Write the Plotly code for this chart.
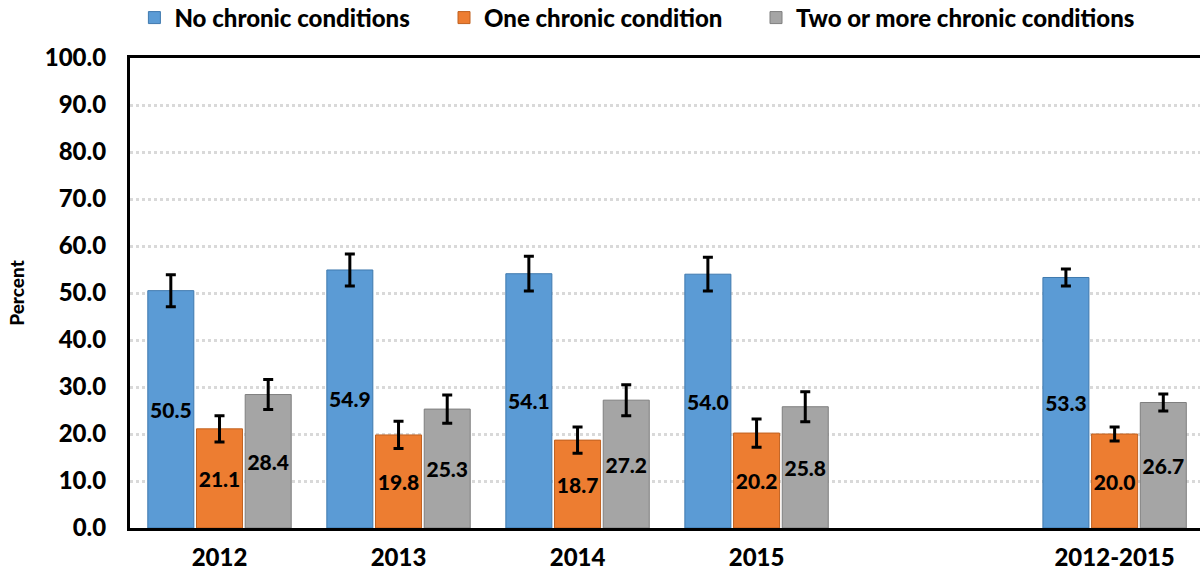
import plotly.graph_objects as go

# categories (blank slot keeps the gap before the pooled years)
periods = ["2012", "2013", "2014", "2015", " ", "2012-2015"]

no_chronic = [50.5, 54.9, 54.1, 54.0, None, 53.3]
one_chronic = [21.1, 19.8, 18.7, 20.2, None, 20.0]
two_plus = [28.4, 25.3, 27.2, 25.8, None, 26.7]

no_chronic_err = [3.4, 3.4, 3.7, 3.6, None, 1.8]
one_chronic_err = [2.8, 2.9, 2.8, 3.0, None, 1.5]
two_plus_err = [3.2, 3.0, 3.3, 3.2, None, 1.8]

series = [
    ("No chronic conditions", no_chronic, no_chronic_err, "#5B9BD5", "#3F79AE", "legend", 0.112),
    ("One chronic condition", one_chronic, one_chronic_err, "#ED7D31", "#C0611F", "legend2", 0.370),
    ("Two or more chronic conditions", two_plus, two_plus_err, "#A5A5A5", "#7F7F7F", "legend3", 0.630),
]

FONT = "Lato"

fig = go.Figure()
legends = {}
for name, vals, errs, color, edge, leg, lx in series:
    fig.add_trace(go.Bar(
        x=periods, y=vals, name=name, legend=leg, showlegend=True,
        marker=dict(color=color, line=dict(color=edge, width=1)),
        error_y=dict(type="data", array=errs, visible=True,
                     color="black", thickness=3, width=5),
        text=[f"{v:.1f}" if v is not None else "" for v in vals],
        textposition="inside", insidetextanchor="middle", textangle=0,
        constraintext="none",
        textfont=dict(family=FONT, size=21, color="black", weight=900),
        cliponaxis=False,
    ))
    # one legend per series so each entry sits where the original has it
    legends[leg] = dict(orientation="h", xref="container", yref="container",
                        x=lx, xanchor="left", y=0.9685, yanchor="middle",
                        font=dict(family=FONT, size=24, weight=900),
                        itemwidth=30, bgcolor="rgba(0,0,0,0)", visible=True)

fig.update_layout(
    width=1200, height=571, showlegend=True,
    margin=dict(l=130, r=0, t=58, b=43, autoexpand=False),
    paper_bgcolor="white", plot_bgcolor="white",
    barmode="group", bargap=0.184, bargroupgap=0.055,
    font=dict(family=FONT, color="black"),
    xaxis=dict(
        type="category", categoryorder="array", categoryarray=periods,
        range=[-0.5, 5.477],
        showline=True, linecolor="black", linewidth=3, mirror=True,
        showgrid=False, ticks="",
        tickfont=dict(family=FONT, size=24, weight=900),
        ticklabelstandoff=6,
    ),
    yaxis=dict(
        range=[0, 100], dtick=10, tickformat=".1f",
        showline=True, linecolor="black", linewidth=3, mirror=True,
        showgrid=True, gridcolor="#D9D9D9", gridwidth=3, griddash="dot",
        zeroline=False, ticks="",
        tickfont=dict(family=FONT, size=24, weight=900),
        ticklabelstandoff=16,
        title=dict(text="Percent", standoff=16,
                   font=dict(family=FONT, size=19, weight=900)),
    ),
    **legends,
)

# drop the default 8px page margin so the figure fills the window
fig.write_html("out.html", config={"displayModeBar": False},
               post_script="document.body.style.margin='0';")
